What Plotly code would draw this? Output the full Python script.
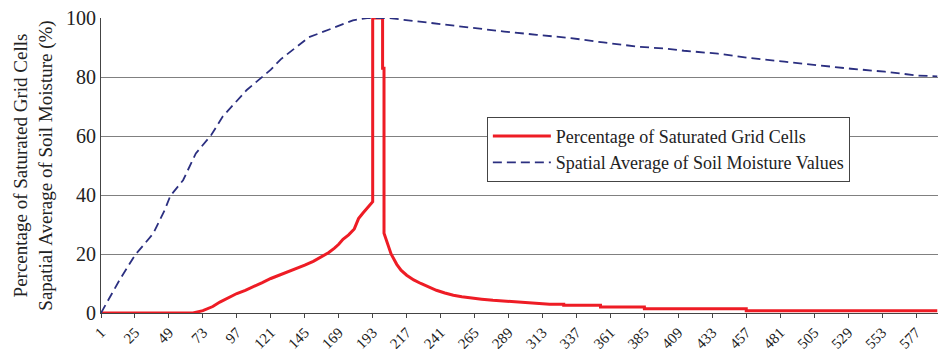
import plotly.graph_objects as go

# x ticks (time steps)
tick_vals = list(range(1, 578, 24))
tick_text = [str(v) for v in tick_vals]

# Percentage of Saturated Grid Cells
sat_x = [1, 66, 73, 80, 85, 90, 97, 103, 109, 115, 121, 127, 133, 139, 145, 151, 157, 162, 166,
         169, 172, 176, 180, 183, 186, 189, 191, 193, 193, 200, 200, 201, 201, 203, 206, 210, 213,
         217, 222, 227, 233, 238, 244, 250, 256, 262, 270, 278, 286, 293, 301, 309, 318, 328, 328,
         354, 354, 385, 385, 457, 457, 500, 550, 592]
sat_y = [0, 0, 0.8, 2.2, 3.7, 5.0, 6.6, 7.7, 8.9, 10.3, 11.7, 12.8, 14.0, 15.0, 16.2, 17.5, 19.0,
         20.5, 22.0, 23.3, 25.0, 26.5, 28.5, 32.0, 33.8, 35.5, 36.8, 37.7, 100, 100, 83, 83, 27, 24,
         20, 16.5, 14.5, 12.8, 11.2, 10.0, 8.8, 7.7, 6.8, 6.0, 5.5, 5.1, 4.7, 4.3, 4.0, 3.7, 3.4,
         3.2, 3.0, 3.0, 2.6, 2.6, 2.0, 2.0, 1.4, 1.4, 0.8, 0.8, 0.8, 0.8]

# Spatial Average of Soil Moisture Values
avg_x = [1, 14, 25, 38, 46, 50, 59, 68, 79, 87, 104, 115, 121, 128, 148, 165, 179, 189, 205, 215,
         238, 262, 286, 309, 333, 356, 380, 401, 413, 437, 460, 484, 507, 531, 555, 578, 592]
avg_y = [0, 11.1, 19.6, 27.0, 34.9, 39.7, 45.0, 54.1, 60.4, 66.6, 75.6, 80.0, 82.5, 86.0, 93.5,
         96.6, 99.2, 100, 100, 99.4, 98.1, 96.6, 95.4, 94.3, 93.2, 91.7, 90.3, 89.6, 88.9, 87.9,
         86.4, 85.2, 83.9, 82.8, 81.8, 80.5, 80.2]

SERIF = "Liberation Serif, Times New Roman, serif"

fig = go.Figure()
fig.add_trace(go.Scatter(
    x=sat_x, y=sat_y, mode="lines", name="Percentage of Saturated Grid Cells",
    line=dict(color="#ee1c25", width=3)))
fig.add_trace(go.Scatter(
    x=avg_x, y=avg_y, mode="lines", name="Spatial Average of Soil Moisture Values",
    line=dict(color="#2b2f80", width=1.8, dash="9px,5px")))

fig.update_layout(
    width=939, height=349,
    margin=dict(l=101, r=1, t=18, b=36),
    paper_bgcolor="white", plot_bgcolor="white",
    font=dict(family=SERIF, color="#222222"),
    showlegend=True,
    legend=dict(
        x=0.461, y=0.665, xanchor="left", yanchor="top",
        bgcolor="white", bordercolor="#444444", borderwidth=1,
        font=dict(family=SERIF, size=18, color="#222222"),
        itemwidth=58, tracegroupgap=2,
    ),
    xaxis=dict(
        range=[1, 592.5], tickmode="array", tickvals=tick_vals, ticktext=tick_text,
        tickangle=-45, tickfont=dict(family=SERIF, size=15, color="#222222"),
        showgrid=False, zeroline=False, showline=True, linecolor="#444444", linewidth=1,
        ticks="outside", ticklen=4, tickcolor="#444444", automargin=False,
    ),
    yaxis=dict(
        range=[0, 100], tickvals=[0, 20, 40, 60, 80, 100],
        tickfont=dict(family=SERIF, size=20, color="#222222"),
        showgrid=True, gridcolor="#808080", gridwidth=1,
        zeroline=False, showline=True, linecolor="#444444", linewidth=1,
        ticks="", ticklen=0, automargin=False,
        title=dict(text="Percentage of Saturated Grid Cells<br>Sapatial Average of Soil Moisture (%)",
                   font=dict(family=SERIF, size=19, color="#222222"), standoff=8),
    ),
)

fig.write_html(
    "out.html",
    config={"displayModeBar": False},
    post_script="document.body.style.margin='0';document.body.style.overflow='hidden';",
)
